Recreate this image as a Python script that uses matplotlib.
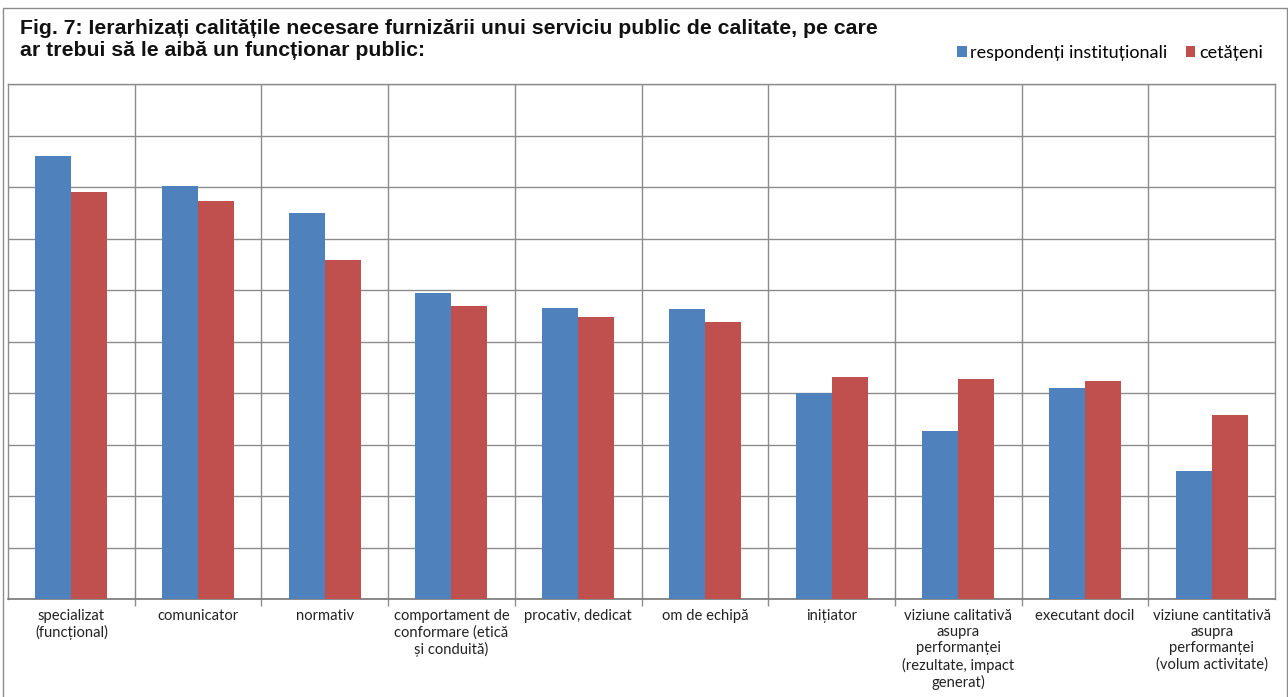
import matplotlib
matplotlib.use("Agg")
import matplotlib.pyplot as plt
import numpy as np
from matplotlib.lines import Line2D

categories = [
    "specializat\n(funcțional)",
    "comunicator",
    "normativ",
    "comportament de\nconformare (etică\nși conduită)",
    "procativ, dedicat",
    "om de echipă",
    "inițiator",
    "viziune calitativă\nasupra\nperformanței\n(rezultate, impact\ngenerat)",
    "executant docil",
    "viziune cantitativă\nasupra\nperformanței\n(volum activitate)",
]
institutionali = [8.60, 8.02, 7.50, 5.94, 5.65, 5.63, 4.00, 3.26, 4.10, 2.49]
cetateni = [7.90, 7.73, 6.58, 5.69, 5.48, 5.38, 4.31, 4.27, 4.23, 3.57]
series_names = ["respondenți instituționali", "cetățeni"]
title = ("Fig. 7: Ierarhizați calitățile necesare furnizării unui serviciu public de calitate, pe care\n"
         "ar trebui să le aibă un funcționar public:")

blue = "#4F81BD"
red = "#C0504D"
grid_c = "#8C8C8C"
label_font = ["Lato", "DejaVu Sans"]

fig = plt.figure(figsize=(12.88, 6.97), dpi=100)
ax = fig.add_axes([8/1288, 1 - 599/697, (1275-8)/1288, (599-84)/697])

x = np.arange(len(categories))
w = 0.284
ax.bar(x - w/2, institutionali, w, color=blue, label=series_names[0], zorder=3)
ax.bar(x + w/2, cetateni, w, color=red, label=series_names[1], zorder=3)

ax.set_xlim(-0.5, len(categories) - 0.5)
ax.set_ylim(0, 10)
ax.set_yticks(np.arange(0, 11, 1))
ax.set_yticklabels([])
ax.tick_params(axis="y", length=0)
ax.yaxis.grid(True, color=grid_c, linewidth=1.0, zorder=0)

ax.set_xticks(x)
ax.set_xticklabels(categories, family=label_font, fontsize=10.6, color="#222222",
                   linespacing=1.2)
ax.tick_params(axis="x", which="major", length=0, pad=7)
ax.set_xticks(np.arange(0.5, len(categories) - 0.5, 1), minor=True)
ax.tick_params(axis="x", which="minor", length=5, color=grid_c, width=1.0)
ax.xaxis.grid(True, which="minor", color=grid_c, linewidth=1.0, zorder=0)
ax.set_axisbelow(True)

for s in ["top", "right", "left"]:
    ax.spines[s].set_color(grid_c)
    ax.spines[s].set_linewidth(1.0)
ax.spines["bottom"].set_color("#777777")
ax.spines["bottom"].set_linewidth(1.2)

fig.text(20/1288, 1 - 19/697, title, fontsize=15.3, fontweight="bold",
         family=["Liberation Sans", "DejaVu Sans"], va="top", ha="left",
         linespacing=1.17, color="#111111")

leg = fig.legend(loc="center right", bbox_to_anchor=(1272/1288, 1 - 53/697),
                 ncol=2, frameon=False, handlelength=0.55, handleheight=0.55,
                 handletextpad=0.2, columnspacing=1.0, borderpad=0.0,
                 prop={"family": label_font, "size": 13})

# outer chart border (bottom edge is outside the image)
bx0, bx1, by_top = 2.5/1288, 1286.5/1288, 1 - 8/697
fig.lines.append(Line2D([bx0, bx0, bx1, bx1], [-0.01, by_top, by_top, -0.01],
                        transform=fig.transFigure, color="#8C8C8C", linewidth=1.0))

fig.savefig("out.png", dpi=100)
